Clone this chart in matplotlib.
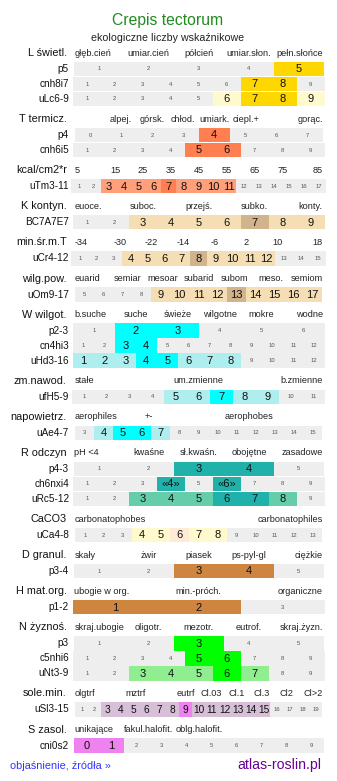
import numpy as np
import matplotlib
matplotlib.use("Agg")
import matplotlib.pyplot as plt

plt.rcParams['font.family'] = ['Liberation Sans', 'DejaVu Sans']

title = "Crepis tectorum"
subtitle = "ekologiczne liczby wskaźnikowe"

# section names and their header labels ('' = empty slot in the header grid)
section_names = ["L świetl.", "T termicz.", "kcal/cm2*r", "K kontyn.", "min.śr.m.T",
                 "wilg.pow.", "W wilgot.", "zm.nawod.", "napowietrz.", "R odczyn",
                 "CaCO3", "D granul.", "H mat.org.", "N żyznoś.", "sole.min.", "S zasol."]

L_labels = ["głęb.cień", "umiar.cień", "półcień", "umiar.słon.", "pełn.słońce"]
T_labels = ["", "alpej.", "górsk.", "chłod.", "umiark.", "ciepl.+", "", "gorąc."]
kcal_labels = ["5", "15", "25", "35", "45", "55", "65", "75", "85"]
K_labels = ["euoce.", "", "suboc.", "", "przejś.", "", "subko.", "", "konty."]
minT_labels = ["-34", "-30", "-22", "-14", "-6", "2", "10", "18"]
wilg_labels = ["euarid", "semiar", "mesoar", "subarid", "subom", "meso.", "semiom"]
W_labels = ["b.suche", "suche", "świeże", "wilgotne", "mokre", "wodne"]
zm_labels = ["stałe", "um.zmienne", "b.zmienne"]
nap_labels = ["aerophiles", "+-", "", "aerophobes", ""]
R_labels = ["pH <4", "kwaśne", "sł.kwaśn.", "obojętne", "zasadowe"]
Ca_labels = ["carbonatophobes", "carbonatophiles"]
D_labels = ["skały", "żwir", "piasek", "ps-pyl-gl", "ciężkie"]
H_labels = ["ubogie w org.", "min.-próch.", "organiczne"]
N_labels = ["skraj.ubogie", "oligotr.", "mezotr.", "eutrof.", "skraj.żyzn."]
sole_labels = ["olgtrf", "", "mztrf", "", "eutrf", "Cl.03", "Cl.1", "Cl.3", "Cl2", "Cl>2"]
S_labels = ["unikające", "fakul.halofit.", "oblg.halofit.", "", ""]

header_labels = [L_labels, T_labels, kcal_labels, K_labels, minT_labels, wilg_labels,
                 W_labels, zm_labels, nap_labels, R_labels, Ca_labels, D_labels,
                 H_labels, N_labels, sole_labels, S_labels]

# rows: (name, first value, last value, strong values, weak values)
L_rows = [("p5", 1, 5, [5], []),
          ("cnh8i7", 1, 9, [7, 8], []),
          ("uLc6-9", 1, 9, [7, 8], [6, 9])]
T_rows = [("p4", 0, 7, [4], []),
          ("cnh6i5", 1, 9, [5, 6], [])]
kcal_rows = [("uTm3-11", 1, 17, [7], [3, 4, 5, 6, 8, 9, 10, 11])]
K_rows = [("BC7A7E7", 1, 9, [7], [3, 4, 5, 6, 8, 9])]
minT_rows = [("uCr4-12", 1, 15, [8], [4, 5, 6, 7, 9, 10, 11, 12])]
wilg_rows = [("uOm9-17", 5, 17, [13], [9, 10, 11, 12, 14, 15, 16, 17])]
W_rows = [("p2-3", 1, 6, [2, 3], []),
          ("cn4hi3", 1, 12, [3, 4], []),
          ("uHd3-16", 1, 12, [4, 5], [1, 2, 3, 6, 7, 8])]
zm_rows = [("ufH5-9", 1, 11, [7], [5, 6, 8, 9])]
nap_rows = [("uAe4-7", 3, 15, [5, 6], [4, 7])]
R_rows = [("p4-3", 1, 5, [3, 4], []),
          ("ch6nxi4", 1, 9, [4, 6], []),
          ("uRc5-12", 1, 9, [6, 7], [3, 4, 5, 8])]
Ca_rows = [("uCa4-8", 1, 13, [6], [4, 5, 7, 8])]
D_rows = [("p3-4", 1, 5, [3, 4], [])]
H_rows = [("p1-2", 1, 3, [1, 2], [])]
N_rows = [("p3", 1, 5, [3], []),
          ("c5nhi6", 1, 9, [5, 6], []),
          ("uNt3-9", 1, 9, [6], [3, 4, 5, 7])]
sole_rows = [("uSl3-15", 1, 19, [9], [3, 4, 5, 6, 7, 8, 10, 11, 12, 13, 14, 15])]
S_rows = [("cni0s2", 0, 9, [0, 1], [])]

section_rows = [L_rows, T_rows, kcal_rows, K_rows, minT_rows, wilg_rows, W_rows,
                zm_rows, nap_rows, R_rows, Ca_rows, D_rows, H_rows, N_rows,
                sole_rows, S_rows]

# values shown in guillemets
bracketed = {"ch6nxi4": [4, 6]}

# (strong colour, weak colour) per section
section_colors = [("#FFD700", "#FFFACD"), ("#FF7F50", "#FFA07A"), ("#FF7F50", "#FFA07A"),
                  ("#D2B48C", "#F5DEB3"), ("#D2B48C", "#F5DEB3"), ("#D2B48C", "#F5DEB3"),
                  ("#00FFFF", "#AFEEEE"), ("#00FFFF", "#AFEEEE"), ("#00FFFF", "#AFEEEE"),
                  ("#20B2AA", "#66CDAA"), ("#FFEBD5", "#FFFACD"), ("#CD853F", "#CD853F"),
                  ("#CD853F", "#CD853F"), ("#00FF00", "#90EE90"), ("#EE82EE", "#D8BFD8"),
                  ("#EE82EE", "#D8BFD8")]

W, H = 337, 781
fig = plt.figure(figsize=(W / 100, H / 100), dpi=100)
ax = fig.add_axes([0, 0, 1, 1])
ax.set_xlim(0, W)
ax.set_ylim(H, 0)
ax.axis('off')

X0, X1 = 73.3, 324.2
MID = (X0 + X1) / 2
ROW_H = 15.0
BG = "#EEEEEE"

ax.text(168, 20, title, ha='center', va='center', fontsize=11.3, color="#228B22")
ax.text(168, 38, subtitle, ha='center', va='center', fontsize=7.7, color="#222222")


def draw_header(y, name, labels):
    ax.text(66.7, y, name, ha='right', va='center', fontsize=7.8, color="#111111")
    n = len(labels)
    cw = (X1 - X0) / n
    for i, lab in enumerate(labels):
        if not lab:
            continue
        if i == 0:
            ax.text(X0 + 1, y, lab, ha='left', va='center', fontsize=6.6, color="#222222")
        elif i == n - 1:
            ax.text(X1 - 1.5, y, lab, ha='right', va='center', fontsize=6.6, color="#222222")
        else:
            ax.text(X0 + (i + 0.5) * cw, y, lab, ha='center', va='center', fontsize=6.6,
                    color="#222222")


def draw_row(top, row, colors):
    name, lo, hi, strong, weak = row
    vals = np.arange(lo, hi + 1)
    n = len(vals)
    cw = round((X1 - X0) / n)
    left0 = MID - cw * n / 2
    lefts = left0 + np.arange(n) * cw
    cols = []
    for v in vals:
        if v in strong:
            cols.append(colors[0])
        elif v in weak:
            cols.append(colors[1])
        else:
            cols.append(BG)
    yc = top + ROW_H / 2
    ax.barh(np.full(n, yc), np.full(n, cw), left=lefts, height=ROW_H - 0.6,
            color=cols, linewidth=0)
    ax.text(69, yc, name, ha='right', va='center', fontsize=7.2, color="#111111")
    marked = bracketed.get(name, [])
    big = min(8, cw * 0.56)
    for v, l in zip(vals, lefts):
        if v in strong or v in weak:
            txt = f"«{v}»" if v in marked else str(v)
            ax.text(l + cw / 2, yc + 0.3, txt, ha='center', va='center', fontsize=big,
                    color="#111111")
        else:
            ax.text(l + cw / 2, yc, str(v), ha='center', va='center', fontsize=4.2,
                    color="#555555")


y = 53.0
for name, labels, rows, colors in zip(section_names, header_labels, section_rows,
                                      section_colors):
    draw_header(y, name, labels)
    top = y + 8.5
    for row in rows:
        draw_row(top, row, colors)
        top += ROW_H
    y = top + 12.6

ax.text(10, 765.7, "objaśnienie, źródła »", ha='left', va='center', fontsize=7.8,
        color="#3333FF")
ax.text(321.7, 764.5, "atlas-roslin.pl", ha='right', va='center', fontsize=10.2,
        color="#660099")

fig.savefig("out.png", dpi=100)
